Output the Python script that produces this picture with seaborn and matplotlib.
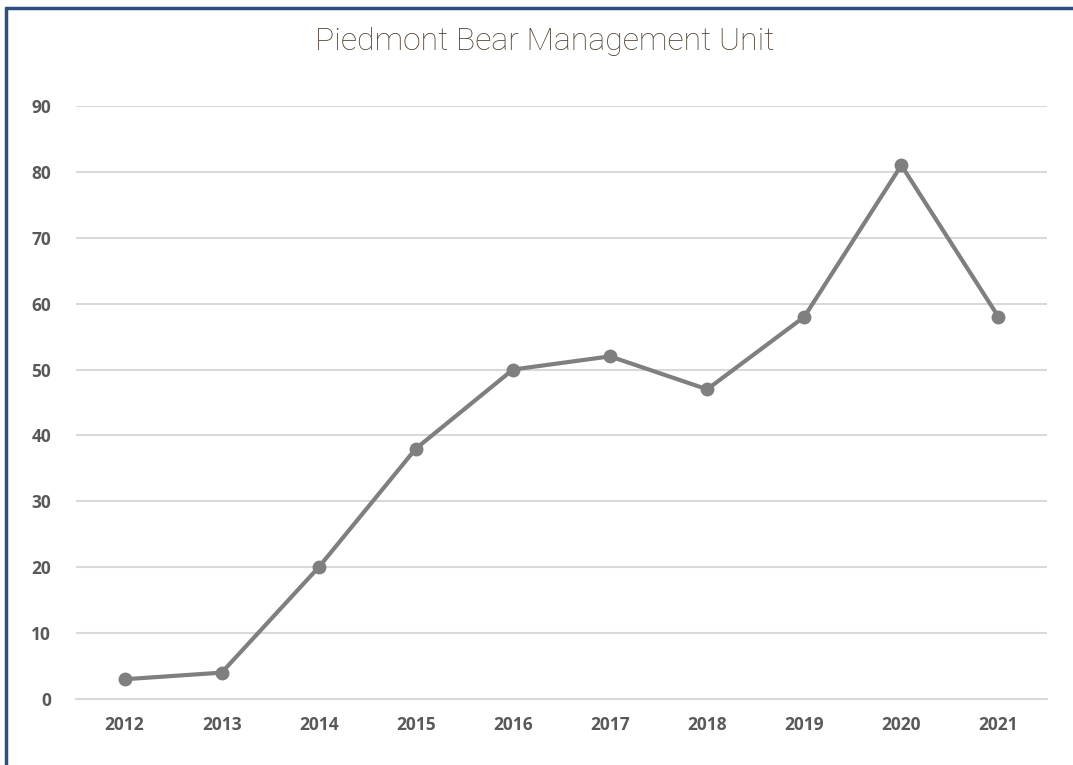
import matplotlib
matplotlib.use("Agg")
import matplotlib.pyplot as plt
import seaborn as sns
import pandas as pd
from matplotlib.lines import Line2D

# Data
years = ["2012", "2013", "2014", "2015", "2016", "2017", "2018", "2019", "2020", "2021"]
counts = [3, 4, 20, 38, 50, 52, 47, 58, 81, 58]
y_ticks = [0, 10, 20, 30, 40, 50, 60, 70, 80, 90]

df = pd.DataFrame({"Year": years, "Count": counts})

sns.set_theme(style="white")
plt.rcParams["font.family"] = ["Open Sans", "DejaVu Sans"]

fig = plt.figure(figsize=(10.73, 7.65), dpi=100)
ax = fig.add_axes([76 / 1073, 1 - 699 / 765, (1047 - 76) / 1073, (699 - 106) / 765])

sns.lineplot(data=df, x="Year", y="Count", ax=ax, color="#7f7f7f", linewidth=3,
             marker="o", markersize=10, markeredgewidth=0, sort=False)

ax.set_xlim(-0.5, len(years) - 0.5)
ax.set_ylim(0, 90)
ax.set_yticks(y_ticks)
ax.set_xlabel("")
ax.set_ylabel("")

# gridlines and axis
ax.grid(axis="y", color="#d9d9d9", linewidth=1.5)
ax.set_axisbelow(True)
for side in ["left", "right", "top"]:
    ax.spines[side].set_visible(False)
ax.spines["bottom"].set_color("#d9d9d9")
ax.spines["bottom"].set_linewidth(1.5)

ax.tick_params(axis="both", length=0, labelsize=12.5, labelcolor="#595959")
ax.tick_params(axis="x", pad=12)
ax.tick_params(axis="y", pad=18)
ax.set_xticks([i - 0.5 for i in range(len(years) + 1)], minor=True)
ax.tick_params(axis="x", which="minor", direction="in", length=6, width=1.5, color="#d9d9d9")
for lbl in ax.get_xticklabels() + ax.get_yticklabels():
    lbl.set_fontweight("bold")

fig.text(545 / 1073, 1 - 42 / 765, "Piedmont Bear Management Unit", ha="center", va="center",
         fontsize=23, color="#4f4232", fontweight="light", family=["Roboto", "DejaVu Sans"])

# dark blue frame (left and top edges visible)
fig.add_artist(Line2D([6 / 1073, 6 / 1073], [0, 1 - 8 / 765], transform=fig.transFigure,
                      color="#2b4f80", linewidth=2.5))
fig.add_artist(Line2D([6 / 1073, 1], [1 - 8 / 765, 1 - 8 / 765], transform=fig.transFigure,
                      color="#2b4f80", linewidth=2.5))

fig.savefig("out.png", dpi=100)
